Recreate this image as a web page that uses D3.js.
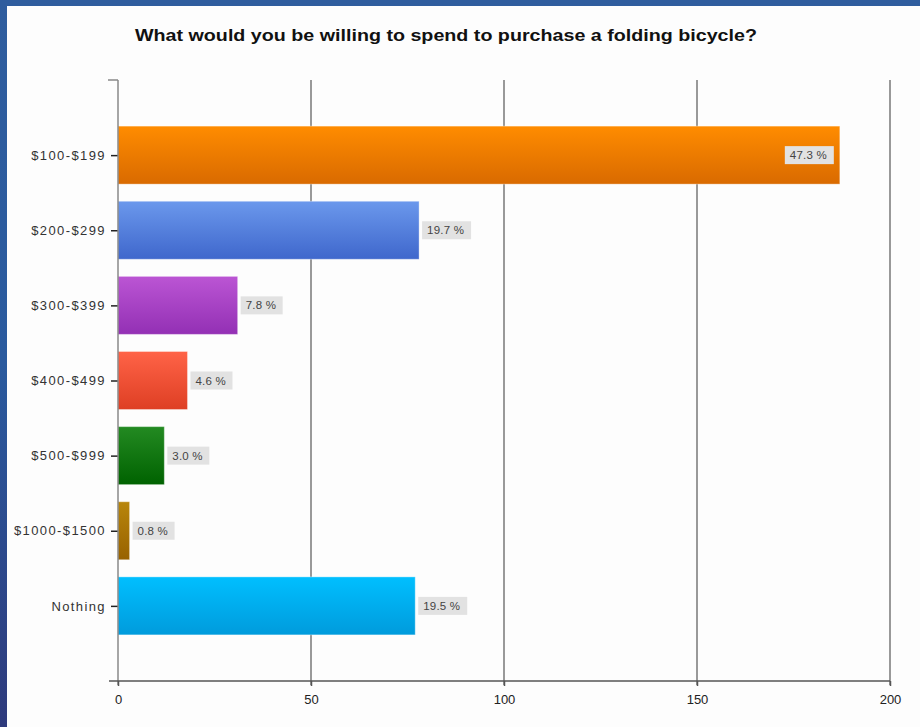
<!DOCTYPE html>
<html>
<head>
<meta charset="utf-8">
<script src="https://cdn.jsdelivr.net/npm/d3@7"></script>
<style>
  html, body { margin: 0; padding: 0; }
  body { width: 920px; height: 727px; overflow: hidden; }
  text { font-family: "Liberation Sans", Arial, sans-serif; }
</style>
</head>
<body>
<svg id="chart" width="920" height="727"></svg>
<script>
// Data
const categories = ["$100-$199", "$200-$299", "$300-$399", "$400-$499", "$500-$999", "$1000-$1500", "Nothing"];
const counts = [187, 78, 31, 18, 12, 3, 77];
const percentLabels = ["47.3 %", "19.7 %", "7.8 %", "4.6 %", "3.0 %", "0.8 %", "19.5 %"];
const xTicks = [0, 50, 100, 150, 200];
const barColors = [
  ["#ff8c00", "#d96a00"],
  ["#6b98ec", "#3f67cc"],
  ["#bb55d4", "#9330b4"],
  ["#ff6347", "#de3f24"],
  ["#238a22", "#006200"],
  ["#b8860b", "#986200"],
  ["#00bfff", "#009bdc"]
];

const svg = d3.select("#chart");

// Blue frame background
const defs = svg.append("defs");
const bg = defs.append("linearGradient").attr("id", "bg")
  .attr("x1", 0).attr("y1", 0).attr("x2", 0).attr("y2", 1);
bg.append("stop").attr("offset", "0%").attr("stop-color", "#2f5d9e");
bg.append("stop").attr("offset", "50%").attr("stop-color", "#2a5a9e");
bg.append("stop").attr("offset", "100%").attr("stop-color", "#2e3a7c");
svg.append("rect").attr("width", 920).attr("height", 727).attr("fill", "url(#bg)");
svg.append("rect").attr("x", 7).attr("y", 6).attr("width", 913).attr("height", 721).attr("fill", "#fdfdfd");

// Bar gradients
barColors.forEach((c, i) => {
  const g = defs.append("linearGradient").attr("id", `bar${i}`)
    .attr("x1", 0).attr("y1", 0).attr("x2", 0).attr("y2", 1);
  g.append("stop").attr("offset", "0%").attr("stop-color", c[0]);
  g.append("stop").attr("offset", "100%").attr("stop-color", c[1]);
});

const plotTop = 80, plotBottom = 681, plotLeft = 118, plotRight = 890;

const x = d3.scaleLinear().domain([0, 200]).range([plotLeft, plotRight]);
const y = d3.scalePoint().domain(categories).range([plotTop, plotBottom]).padding(1);
const barH = 58;

// Title (stretched a bit, like the original raster)
svg.append("text")
  .attr("x", 135).attr("y", 41)
  .attr("textLength", 622).attr("lengthAdjust", "spacingAndGlyphs")
  .style("font-size", "16.5px").style("font-weight", "bold")
  .attr("fill", "#111")
  .text("What would you be willing to spend to purchase a folding bicycle?");

// Vertical grid lines
svg.append("g").selectAll("line")
  .data(xTicks.slice(1))
  .enter().append("line")
  .attr("x1", d => x(d)).attr("x2", d => x(d))
  .attr("y1", plotTop).attr("y2", plotBottom + 4)
  .attr("stroke", "#777").attr("stroke-width", 1.5);

// Bars
const rows = categories.map((c, i) => ({ cat: c, value: counts[i], label: percentLabels[i], i }));

svg.append("g").selectAll("rect")
  .data(rows)
  .enter().append("rect")
  .attr("x", x(0))
  .attr("y", d => y(d.cat) - barH / 2)
  .attr("width", d => x(d.value) - x(0))
  .attr("height", barH)
  .attr("fill", d => `url(#bar${d.i})`)
  .attr("stroke", "#ffffff").attr("stroke-opacity", 0.35).attr("stroke-width", 1);

// Percentage labels with grey boxes
const labelW = d => d.label.length > 5 ? 49 : 42;
const lab = svg.append("g").selectAll("g")
  .data(rows)
  .enter().append("g")
  .attr("transform", d => {
    const inside = x(d.value) + labelW(d) + 4 > plotRight;
    const bx = inside ? x(d.value) - labelW(d) - 6 : x(d.value) + 3;
    return `translate(${bx},${y(d.cat)})`;
  });
lab.append("rect")
  .attr("x", 0).attr("y", -9)
  .attr("width", labelW).attr("height", 18)
  .attr("fill", "#e2e2e2");
lab.append("text")
  .attr("x", 5).attr("y", 4)
  .style("font-size", "11.5px").style("letter-spacing", "0.2px")
  .attr("fill", "#444")
  .text(d => d.label);

// Y axis
const yAxis = d3.axisLeft(y).tickSize(7).tickPadding(5);
const gy = svg.append("g").attr("transform", `translate(${plotLeft},0)`).call(yAxis);
gy.select(".domain").remove();
gy.selectAll(".tick line").attr("stroke", "#222").attr("stroke-width", 1.5);
gy.selectAll(".tick text")
  .style("font-family", "'Liberation Sans', Arial, sans-serif")
  .style("font-size", "13px").style("letter-spacing", "1.4px")
  .attr("fill", "#333");
svg.append("line")
  .attr("x1", plotLeft).attr("x2", plotLeft).attr("y1", plotTop).attr("y2", plotBottom + 4)
  .attr("stroke", "#888").attr("stroke-width", 1.5);
svg.append("line")
  .attr("x1", plotLeft - 10).attr("x2", plotLeft).attr("y1", plotTop).attr("y2", plotTop)
  .attr("stroke", "#888").attr("stroke-width", 1.5);

// X axis
const xAxis = d3.axisBottom(x).tickValues(xTicks).tickSize(5).tickPadding(9);
const gx = svg.append("g").attr("transform", `translate(0,${plotBottom})`).call(xAxis);
gx.select(".domain").remove();
gx.selectAll(".tick line").attr("stroke", "#555").attr("stroke-width", 1.5);
gx.selectAll(".tick text")
  .style("font-family", "'Liberation Sans', Arial, sans-serif")
  .style("font-size", "13px")
  .attr("fill", "#222");
svg.append("line")
  .attr("x1", plotLeft - 9).attr("x2", plotRight).attr("y1", plotBottom).attr("y2", plotBottom)
  .attr("stroke", "#555").attr("stroke-width", 1.5);
</script>
</body>
</html>
